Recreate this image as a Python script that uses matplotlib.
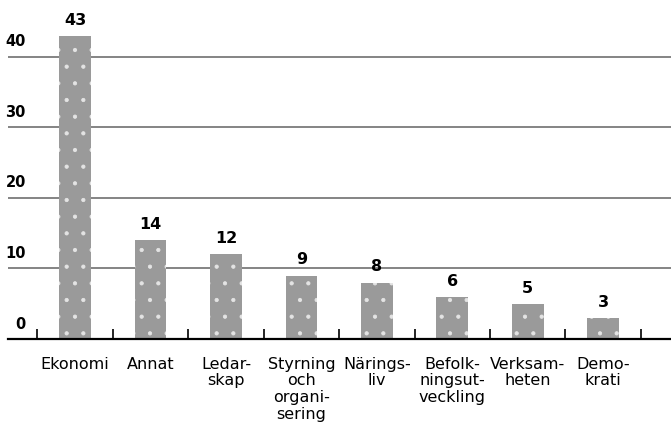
import matplotlib
matplotlib.use("Agg")
import matplotlib.pyplot as plt
import numpy as np

categories = ["Ekonomi", "Annat", "Ledar-\nskap", "Styrning\noch\norgani-\nsering",
              "Närings-\nliv", "Befolk-\nningsut-\nveckling", "Verksam-\nheten", "Demo-\nkrati"]
values = [43, 14, 12, 9, 8, 6, 5, 3]
yticks = [0, 10, 20, 30, 40]

plt.rcParams['hatch.linewidth'] = 0.6
fam = ['Liberation Sans Narrow', 'DejaVu Sans']

fig = plt.figure(figsize=(6.71, 4.31), dpi=100)
ax = fig.add_axes([8/671, 1 - 340/431, 1 - 8/671, 340/431])

x = np.arange(len(values))
ax.bar(x, values, width=0.42, color='#9a9a9a', edgecolor='#e4e4e4', linewidth=0,
       hatch='.', zorder=3)

ax.set_xlim(-0.89, 7.9)
ax.set_ylim(0, 48.2)

for yv in yticks:
    ax.axhline(yv, color='#707070', linewidth=1.2, zorder=1)
    ax.text(26/671 - 8/671, yv + 1.2, str(yv), transform=ax.get_yaxis_transform(),
            ha='right', va='bottom', fontsize=10.5, fontweight='bold', family=fam)

for xi, v in zip(x, values):
    ax.text(xi, v + 1.3, str(v), ha='center', va='bottom', fontsize=11.5,
            fontweight='bold', family=fam, zorder=4)

ax.set_yticks([])
ax.set_xticks(np.arange(-0.5, len(values) + 0.5, 1.0))
ax.set_xticklabels([])
ax.tick_params(axis='x', direction='in', length=7, width=1.2, color='black')
ax.set_xticks(x, minor=True)
ax.set_xticklabels(categories, minor=True, fontsize=11.5, family=fam,
                   linespacing=1.15, va='top')
ax.tick_params(axis='x', which='minor', length=0, pad=12)

for s in ['left', 'right', 'top']:
    ax.spines[s].set_visible(False)
ax.spines['bottom'].set_linewidth(1.6)
ax.spines['bottom'].set_zorder(5)

fig.savefig("out.png", dpi=100)
